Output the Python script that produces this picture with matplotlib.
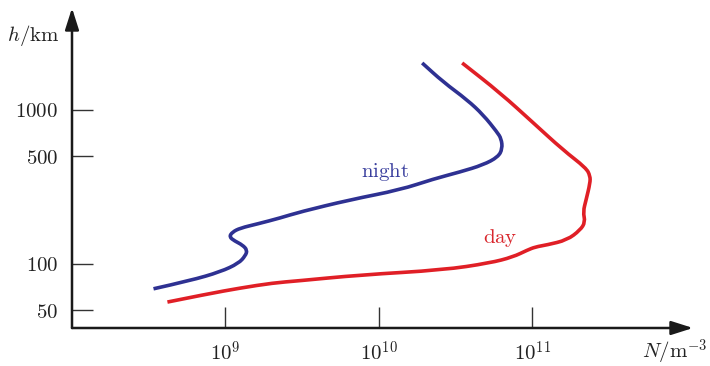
import matplotlib.pyplot as plt
from matplotlib.path import Path
from matplotlib.patches import PathPatch
import numpy as np

plt.rcParams["mathtext.fontset"] = "cm"
plt.rcParams["font.family"] = "serif"
plt.rcParams["font.serif"] = ["DejaVu Serif"]

# night profile (N in m^-3, h in km)
night_N = [3.4e8, 5.9e8, 9.3e8, 1.22e9, 1.35e9, 1.39e9, 1.29e9, 1.15e9, 1.06e9,
           1.11e9, 1.25e9, 1.62e9, 2.28e9, 3.08e9, 6.5e9, 1.38e10, 2.27e10,
           3.4e10, 4.8e10, 6.0e10, 6.4e10, 6.3e10, 5.9e10, 4.8e10, 3.78e10, 2.63e10, 1.92e10]
night_h = [69, 78, 89, 101, 113, 123, 133, 141, 150,
           161, 171, 182, 199, 218, 261, 303, 356,
           396, 440, 495, 560, 650, 720, 929, 1161, 1520, 2018]

# day profile
day_N = [4.19e8, 7.6e8, 1.25e9, 2.05e9, 2.94e9, 7.6e9, 2.63e10, 5.3e10, 7.5e10,
         9.3e10, 1.05e11, 1.25e11, 1.69e11, 2.06e11, 2.22e11, 2.15e11, 2.25e11,
         2.39e11, 2.39e11, 2.25e11, 1.59e11, 1.02e11, 6.2e10, 3.5e10]
day_h = [56.6, 63.8, 69.8, 75.3, 77.6, 84.9, 91.4, 101.5, 111,
         123, 129, 133, 143, 166, 187, 218, 261,
         336, 373, 420, 550, 823, 1289, 2018]

yticks = [50, 100, 500, 1000]
xticks = [1e9, 1e10, 1e11]
xtick_labels = [r"$10^{9}$", r"$10^{10}$", r"$10^{11}$"]

blue = "#2e3192"
red = "#e01f26"


def smooth_path(xs, ys):
    # quadratic B-spline style path: read points act as control points,
    # segments join at (log-space) midpoints
    verts = [(xs[0], ys[0])]
    codes = [Path.MOVETO]
    for i in range(1, len(xs) - 1):
        mx = np.sqrt(xs[i] * xs[i + 1])
        my = np.sqrt(ys[i] * ys[i + 1])
        verts += [(xs[i], ys[i]), (mx, my)]
        codes += [Path.CURVE3, Path.CURVE3]
    verts.append((xs[-1], ys[-1]))
    codes.append(Path.LINETO)
    return Path(verts, codes)


fig = plt.figure(figsize=(7.1, 3.66), dpi=100)
ax = fig.add_axes([72/710, 38/366, (693-72)/710, (358-38)/366])
ax.set_xscale("log")
ax.set_yscale("log")
ax.set_xlim(1e8, 1.12e12)
ax.set_ylim(38.4, 4590)

ax.add_patch(PathPatch(smooth_path(night_N, night_h), fill=False, edgecolor=blue, lw=2.6,
                       joinstyle="round", capstyle="butt"))
ax.add_patch(PathPatch(smooth_path(day_N, day_h), fill=False, edgecolor=red, lw=2.6,
                       joinstyle="round", capstyle="butt"))

ax.text(1.1e10, 395, r"$\mathrm{night}$", color="#3a3f9e", fontsize=15, ha="center", va="center")
ax.text(6.2e10, 147, r"$\mathrm{day}$", color="#d9262c", fontsize=15, ha="center", va="center")

for s in ["top", "right", "left", "bottom"]:
    ax.spines[s].set_visible(False)

ax.annotate("", xy=(1.0, 0), xytext=(0, 0), xycoords="axes fraction",
            arrowprops=dict(arrowstyle="-|>,head_length=1.1,head_width=0.35",
                            color="#1a1a1a", lw=1.8, mutation_scale=12, shrinkA=0, shrinkB=0))
ax.annotate("", xy=(0, 1.0), xytext=(0, 0), xycoords="axes fraction",
            arrowprops=dict(arrowstyle="-|>,head_length=1.1,head_width=0.35",
                            color="#1a1a1a", lw=1.8, mutation_scale=12, shrinkA=0, shrinkB=0))

ax.set_xticks(xticks)
ax.set_xticklabels(xtick_labels)
ax.set_yticks(yticks)
ax.set_yticklabels([r"$%d$" % v for v in yticks])
ax.minorticks_off()
ax.tick_params(axis="both", direction="in", length=15, width=1.0, color="#333333",
               labelsize=15, labelcolor="#222222")
ax.tick_params(axis="x", pad=9)
ax.tick_params(axis="y", pad=10)

fig.text(33/710, 1 - 35/366, r"$h/\mathrm{km}$", fontsize=15, ha="center", va="center", color="#222222")
fig.text(707/710, 1 - 352/366, r"$N/\mathrm{m}^{\mathrm{-3}}$",
         fontsize=15, ha="right", va="center", color="#222222")

fig.savefig("out.png", dpi=100)
